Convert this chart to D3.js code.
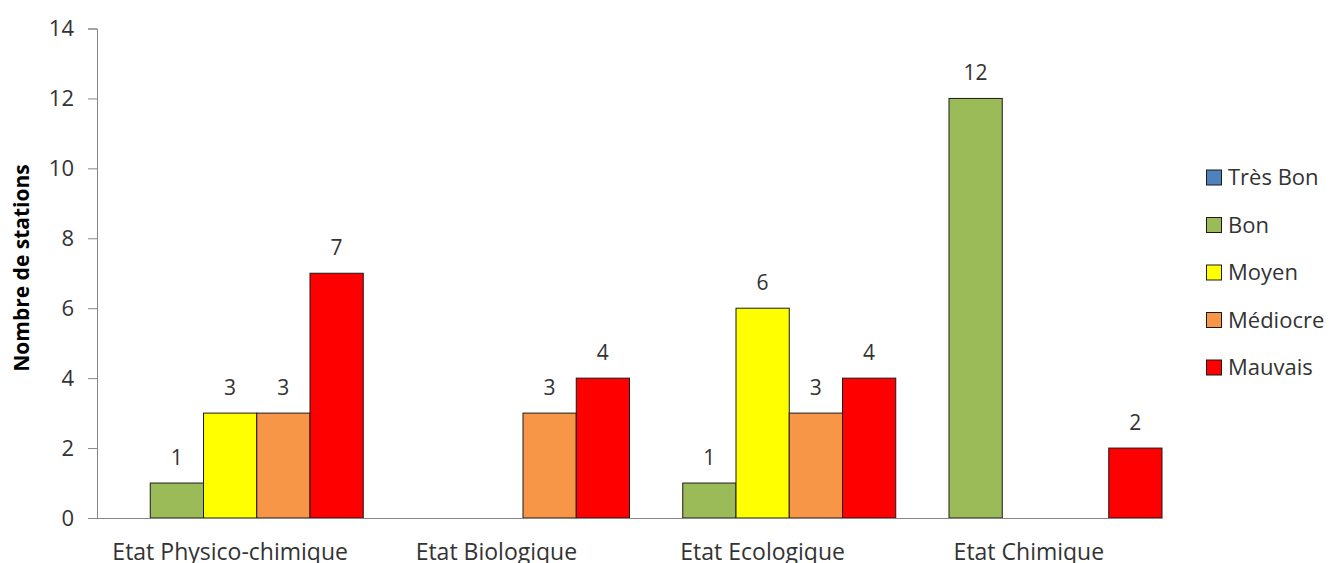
<!DOCTYPE html>
<html>
<head>
<meta charset="utf-8">
<script src="https://cdn.jsdelivr.net/npm/d3@7"></script>
<style>
  body { margin: 0; background: #fff; }
  svg { display: block; font-family: "Open Sans", sans-serif; }
</style>
</head>
<body>
<div id="chart"></div>
<script>
const W = 1333, H = 563;

// categories on the x axis
const categories = ["Etat Physico-chimique", "Etat Biologique", "Etat Ecologique", "Etat Chimique"];
// series (legend order)
const seriesNames = ["Très Bon", "Bon", "Moyen", "Médiocre", "Mauvais"];
const seriesColors = ["#4f81bd", "#9bbb59", "#ffff00", "#f79646", "#ff0000"];
// values per series, in category order
const tresBon  = [0, 0, 0, 0];
const bon      = [1, 0, 1, 12];
const moyen    = [3, 0, 6, 0];
const mediocre = [3, 3, 3, 0];
const mauvais  = [7, 4, 4, 2];
const yTicks = [0, 2, 4, 6, 8, 10, 12, 14];

const seriesValues = [tresBon, bon, moyen, mediocre, mauvais];

const m = {l: 97, r: W - 1162, t: 28.5, b: H - 518};

const svg = d3.select("#chart").append("svg")
  .attr("width", W)
  .attr("height", H)
  .attr("viewBox", [0, 0, W, H]);

const x0 = d3.scaleBand().domain(categories).range([m.l, W - m.r]).padding(0);
const x1 = d3.scaleBand().domain(seriesNames).range([0, x0.bandwidth()]).padding(0);
const y = d3.scaleLinear().domain([0, 14]).range([H - m.b, m.t]);
const color = d3.scaleOrdinal().domain(seriesNames).range(seriesColors);

// y axis
const yAxis = svg.append("g")
  .attr("transform", `translate(${m.l},0)`)
  .call(d3.axisLeft(y).tickValues(yTicks).tickSize(9).tickPadding(14).tickFormat(d3.format("d")));
yAxis.select(".domain").attr("stroke", "#868686");
yAxis.selectAll(".tick line").attr("stroke", "#868686");
yAxis.selectAll("text")
  .attr("font-size", 22)
  .attr("font-family", "Open Sans")
  .attr("fill", "#333");

// bars
const rows = categories.map((c, i) => ({
  cat: c,
  vals: seriesNames.map((s, j) => ({name: s, value: seriesValues[j][i]}))
}));

const groups = svg.append("g").selectAll("g")
  .data(rows)
  .join("g")
    .attr("transform", d => `translate(${x0(d.cat)},0)`);

groups.selectAll("rect")
  .data(d => d.vals.filter(v => v.value > 0))
  .join("rect")
    .attr("x", d => x1(d.name))
    .attr("y", d => y(d.value))
    .attr("width", x1.bandwidth())
    .attr("height", d => y(0) - y(d.value))
    .attr("fill", d => color(d.name))
    .attr("stroke", "#1a1a1a")
    .attr("stroke-width", 1);

groups.selectAll("text")
  .data(d => d.vals.filter(v => v.value > 0))
  .join("text")
    .attr("x", d => x1(d.name) + x1.bandwidth() / 2)
    .attr("y", d => y(d.value) - 18)
    .attr("text-anchor", "middle")
    .attr("font-size", 21)
    .attr("fill", "#333")
    .text(d => d.value);

// x axis line
const xAxis = svg.append("g")
  .attr("transform", `translate(0,${y(0)})`)
  .call(d3.axisBottom(x0).tickSize(0).tickPadding(0));
xAxis.select(".domain").attr("stroke", "#868686");
xAxis.selectAll("text")
  .attr("dy", null)
  .attr("y", 42)
  .attr("font-size", 23)
  .attr("font-family", "Open Sans")
  .attr("fill", "#333");

// y title
svg.append("text")
  .attr("transform", `translate(29,268) rotate(-90)`)
  .attr("text-anchor", "middle")
  .attr("font-size", 21)
  .attr("font-weight", "bold")
  .attr("fill", "#000")
  .text("Nombre de stations");

// legend
const legend = svg.append("g").selectAll("g")
  .data(seriesNames)
  .join("g")
    .attr("transform", (d, i) => `translate(1206,${177.5 + i * 47.5})`);

legend.append("rect")
  .attr("x", 0.5)
  .attr("y", -7.5)
  .attr("width", 15)
  .attr("height", 15)
  .attr("fill", d => color(d))
  .attr("stroke", "#1a1a1a");

legend.append("text")
  .attr("x", 22)
  .attr("dy", "0.35em")
  .attr("font-size", 22)
  .attr("fill", "#333")
  .text(d => d);
</script>
</body>
</html>
